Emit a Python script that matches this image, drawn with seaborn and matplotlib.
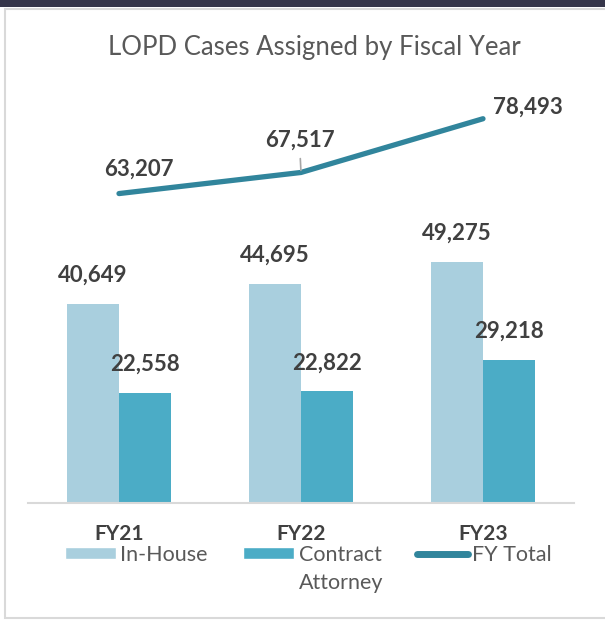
"""LOPD cases assigned by fiscal year"""
import numpy as np
import pandas as pd
import matplotlib.pyplot as plt
import seaborn as sns
from matplotlib.patches import Rectangle, Patch
from matplotlib.lines import Line2D
from matplotlib.text import Annotation

sns.set_style('white')
plt.rcParams['font.family'] = ['Lato', 'DejaVu Sans']

years = ['FY21', 'FY22', 'FY23']
in_house = [40649, 44695, 49275]
contract = [22558, 22822, 29218]
fy_total = [63207, 67517, 78493]
series_names = ['In-House', 'Contract Attorney']

LIGHT = '#A9CFDE'
AQUA = '#4BACC6'
LINE = '#31859C'
TEXT = '#404040'
GREY = '#595959'

df = pd.DataFrame({
    'Fiscal Year': years * 2,
    'Cases': in_house + contract,
    'Type': [series_names[0]] * 3 + [series_names[1]] * 3,
})

fig = plt.figure(figsize=(6.05, 6.21), dpi=100)
W, H = 605, 621

# chart frame and the dark band at the top
fig.patches.append(Rectangle((5 / W, 3 / H), 1.0, (609 / H), transform=fig.transFigure,
                             facecolor='white', edgecolor='#D9D9D9', linewidth=1.5, zorder=-10))
fig.patches.append(Rectangle((0, 1 - 7 / H), 1.0, 7 / H, transform=fig.transFigure,
                             facecolor='#35354A', edgecolor='none', zorder=-9))

ax = fig.add_axes([28 / W, (621 - 503) / H, 546 / W, 440.6 / H])
ax.set_facecolor('none')
ax.set_zorder(2)

sns.barplot(data=df, x='Fiscal Year', y='Cases', hue='Type', palette=[LIGHT, AQUA],
            width=0.575, linewidth=0, saturation=1, legend=False, ax=ax)
sns.lineplot(x=np.arange(len(years)), y=fy_total, color=LINE, linewidth=3.8,
             solid_capstyle='round', legend=False, ax=ax)

ax.set_xlim(-0.5, 2.5)
ax.set_ylim(0, 90000)

for cont in ax.containers:
    ax.bar_label(cont, labels=[f'{v:,.0f}' for v in cont.datavalues], padding=13,
                 fontsize=16, fontweight='bold', color=TEXT)

# data labels for the total line
offsets = [(14.5, 10, 'center'), (-1, 16, 'center'), (7, 1, 'left')]
for i, (v, (dx, dy, ha)) in enumerate(zip(fy_total, offsets)):
    ax.annotate(f'{v:,.0f}', (i, v), xytext=(dx, dy), textcoords='offset points',
                ha=ha, va='bottom', fontsize=16, fontweight='bold', color=TEXT)
ax.annotate('', (1, fy_total[1]), xytext=(-0.5, 10), textcoords='offset points',
            arrowprops=dict(arrowstyle='-', color='#A6A6A6', lw=1.2, shrinkA=0, shrinkB=1.5))

ax.set_xlabel('')
ax.set_ylabel('')
ax.set_yticks([])
ax.tick_params(axis='x', length=0, pad=15, labelsize=15, labelcolor=TEXT)
for lbl in ax.get_xticklabels():
    lbl.set_fontweight('bold')
for side in ['top', 'right', 'left']:
    ax.spines[side].set_visible(False)
ax.spines['bottom'].set_color('#D9D9D9')
ax.spines['bottom'].set_linewidth(1.5)

fig.text(0.52, 1 - 47 / H, 'LOPD Cases Assigned by Fiscal Year', ha='center', va='center',
         fontsize=18.5, color=GREY)

handles = [Patch(facecolor=LIGHT), Patch(facecolor=AQUA),
           Line2D([0], [0], color=LINE, linewidth=5, solid_capstyle='round')]
leg = fig.legend(handles, ['In-House', 'Contract', 'FY Total'], ncol=3, frameon=False,
                 loc='center left', bbox_to_anchor=(65 / W, 1 - 555 / H), fontsize=15.5,
                 labelcolor=GREY, handlelength=2.37, handleheight=0.5, handletextpad=0.2,
                 columnspacing=1.65, borderaxespad=0, borderpad=0)
# second line of the wrapped legend label
attorney = Annotation('Attorney', xy=(0, 0), xycoords=leg.get_texts()[1], xytext=(0, -6),
                      textcoords='offset points', ha='left', va='top', fontsize=15.5,
                      color=GREY, annotation_clip=False)
attorney.set_zorder(10)
fig.add_artist(attorney)

fig.canvas.draw()
plt.savefig('out.png', dpi=100)
plt.close()
